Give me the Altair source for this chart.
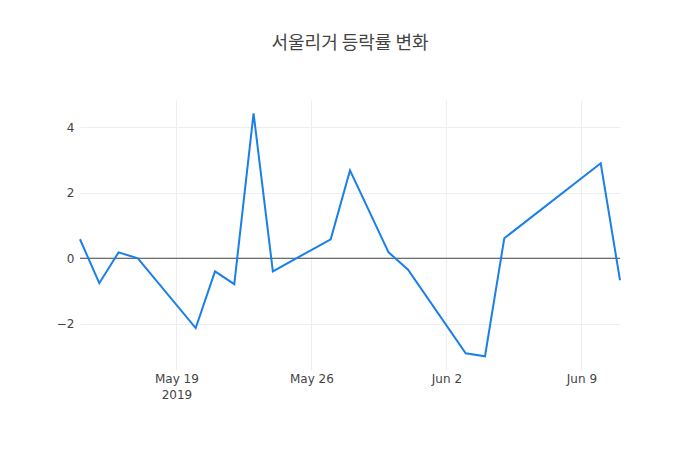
import altair as alt
import pandas as pd

# 서울리거 daily change (%)
dates = [
    "2019-05-14", "2019-05-15", "2019-05-16", "2019-05-17",
    "2019-05-20", "2019-05-21", "2019-05-22", "2019-05-23", "2019-05-24",
    "2019-05-27", "2019-05-28", "2019-05-30", "2019-05-31",
    "2019-06-03", "2019-06-04", "2019-06-05",
    "2019-06-10", "2019-06-11",
]
change = [
    0.58, -0.76, 0.18, 0.0,
    -2.13, -0.40, -0.79, 4.42, -0.40,
    0.58, 2.68, 0.18, -0.34,
    -2.90, -2.99, 0.61,
    2.90, -0.67,
]
y_ticks = [-2, 0, 2, 4]

df = pd.DataFrame({"date": dates, "change": change})

def utc_day(m, d):
    return alt.DateTime(year=2019, month=m, date=d, utc=True)

x_ticks = [utc_day(5, 19), utc_day(5, 26), utc_day(6, 2), utc_day(6, 9)]

x_enc = alt.X(
    "date:T",
    scale=alt.Scale(type="utc", domain=[utc_day(5, 14), utc_day(6, 11)], nice=False),
    axis=alt.Axis(
        title=None,
        values=x_ticks,
        labelExpr="utcFormat(datum.value, '%m%d') == '0519' ? ['May 19', '2019'] : utcFormat(datum.value, '%b %-d')",
        grid=True,
        gridColor="#eeeeee",
        domain=False,
        ticks=False,
        labelPadding=3,
        labelFontSize=12,
        labelColor="#444444",
        labelFont="DejaVu Sans",
        labelLineHeight=16,
    ),
)

y_enc = alt.Y(
    "change:Q",
    scale=alt.Scale(domain=[-3.41, 4.83], nice=False, zero=False),
    axis=alt.Axis(
        title=None,
        values=y_ticks,
        labelExpr="replace(format(datum.value, 'd'), '-', '\u2212')",
        grid=True,
        gridColor="#eeeeee",
        domain=False,
        ticks=False,
        labelPadding=6,
        labelFontSize=12,
        labelColor="#444444",
        labelFont="DejaVu Sans",
    ),
)

zero = alt.Chart(pd.DataFrame({"y": [0]})).mark_rule(color="#444444", strokeWidth=1).encode(
    y=alt.Y("y:Q", scale=alt.Scale(domain=[-3.41, 4.83], nice=False, zero=False))
)

line = alt.Chart(df).mark_line(color="#1a7fe8", strokeWidth=2).encode(
    x=x_enc,
    y=y_enc,
)

chart = (
    alt.layer(zero, line)
    .properties(
        width=540,
        height=270,
        background="white",
        title=alt.TitleParams(
            "서울리거 등락률 변화",
            font="Noto Sans CJK KR",
            fontSize=18,
            fontWeight="normal",
            color="#444444",
            anchor="middle",
            offset=47,
        ),
        autosize=alt.AutoSizeParams(type="none"),
        padding={"left": 72, "top": 92, "right": 72, "bottom": 72},
    )
    .configure_view(strokeWidth=0)
)

chart.save("out.html", embed_options={"renderer": "svg", "actions": False})
